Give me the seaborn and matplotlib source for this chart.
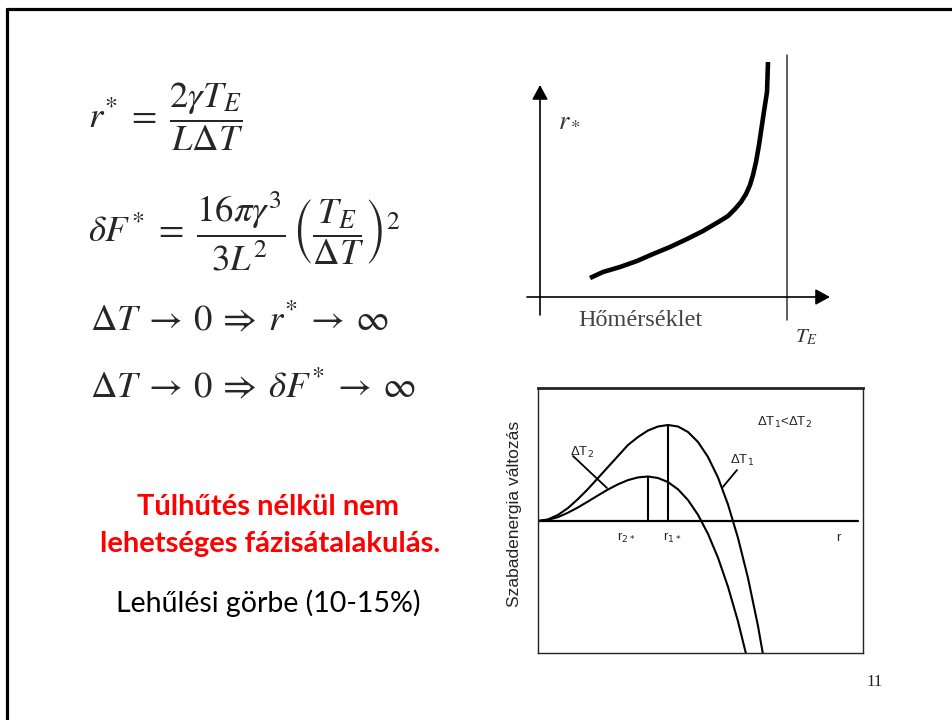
import matplotlib
matplotlib.use("Agg")
import matplotlib.pyplot as plt
from matplotlib.lines import Line2D
import seaborn as sns

# --- critical nucleus radius vs. temperature (arbitrary units) ---
temperature = [50, 63, 80, 97, 113, 130, 147, 163, 180, 188, 195, 201, 206, 210, 213,
               216, 219, 223, 227, 228]
r_critical = [19, 25, 30, 36, 43, 50, 58, 66, 76, 81, 88, 95, 103, 112, 122,
              135, 152, 179, 205, 235]
t_equilibrium = 247

# --- free energy change vs. cluster radius for two undercoolings ---
radius = [0, 1, 2, 3, 4, 5, 6, 7, 8, 9, 10, 11, 12, 13, 14, 15, 16, 17, 18, 19, 20, 21, 22, 23]
dG_small_dT = [0, 0.16, 0.61, 1.3, 2.2, 3.2, 4.3, 5.4, 6.5, 7.6, 8.4, 9.05, 9.45, 9.6,
               9.45, 8.9, 7.9, 6.4, 4.35, 1.65, -1.7, -5.7, -10.5, -16.2]
dG_large_dT = [0, 0.11, 0.39, 0.83, 1.36, 1.95, 2.56, 3.15, 3.67, 4.09, 4.36, 4.45, 4.30,
               3.89, 3.17, 2.09, 0.62, -1.29, -3.67, -6.58, -10.04, -14.09, -18.8, -24.2]

W, H = 952, 720

sns.set_theme(style="white")
plt.rcParams["mathtext.fontset"] = "stix"
plt.rcParams["font.family"] = ["Liberation Serif", "DejaVu Sans"]

fig = plt.figure(figsize=(W / 100, H / 100), dpi=100)
fig.patch.set_facecolor("white")


def fpos(x, y):
    return x / W, 1 - y / H


def faxes(x0, y0, x1, y1):
    return [x0 / W, 1 - y1 / H, (x1 - x0) / W, (y1 - y0) / H]


# slide frame
fig.add_artist(Line2D([7 / W, 7 / W], [0, 1 - 9 / H], color="black", lw=2.3,
                      transform=fig.transFigure))
fig.add_artist(Line2D([7 / W, 1], [1 - 9 / H, 1 - 9 / H], color="black", lw=2.3,
                      transform=fig.transFigure))

# --- equations ---
eq_size = 26.5
fig.text(*fpos(88, 117), r"$r^{*}\;=\;\dfrac{2\gamma T_E}{L\Delta T}$",
         fontsize=eq_size, va="center", ha="left")
fig.text(*fpos(88, 231),
         r"$\delta F^{*}\;=\;\dfrac{16\pi\gamma^{3}}{3L^{2}}\,\left(\dfrac{T_E}{\Delta T}\right)^{2}$",
         fontsize=eq_size, va="center", ha="left")
fig.text(*fpos(90, 330),
         r"$\Delta T\:\rightarrow\:0\:\Rightarrow\:r^{*}\:\rightarrow\:\infty$",
         fontsize=eq_size, va="baseline", ha="left")
fig.text(*fpos(90, 397),
         r"$\Delta T\:\rightarrow\:0\:\Rightarrow\:\delta F^{*}\:\rightarrow\:\infty$",
         fontsize=eq_size, va="baseline", ha="left")

# --- remarks ---
remark_font = ["Lato", "DejaVu Sans"]
fig.text(*fpos(268, 515), "Túlhűtés nélkül nem", fontsize=21, fontweight="bold",
         color="#FF0000", family=remark_font, ha="center", va="baseline")
fig.text(*fpos(270, 552), "lehetséges fázisátalakulás.", fontsize=21, fontweight="bold",
         color="#FF0000", family=remark_font, ha="center", va="baseline")
fig.text(*fpos(268, 612), "Lehűlési görbe (10-15%)", fontsize=20.5,
         color="black", family=remark_font, ha="center", va="baseline")
fig.text(*fpos(875, 682), "11", fontsize=12, color="#222222", ha="center", va="center")

# --- r* vs temperature sketch ---
ax1 = fig.add_axes(faxes(520, 40, 850, 360))
ax1.set_xlim(-20, 310)
ax1.set_ylim(297 - 360, 297 - 40)
ax1.axis("off")
arrow_kw = dict(arrowstyle="-|>,head_length=0.55,head_width=0.3", color="black",
                lw=1.2, mutation_scale=16, shrinkA=0, shrinkB=0)
ax1.annotate("", xy=(290, 0), xytext=(-13, 0), arrowprops=arrow_kw)
ax1.annotate("", xy=(0, 212), xytext=(0, -18), arrowprops=arrow_kw)
ax1.plot([t_equilibrium, t_equilibrium], [-23, 242], color="#333333", lw=1.1)
sns.lineplot(x=temperature, y=r_critical, ax=ax1, color="black", lw=3.3,
             estimator=None, sort=False, solid_capstyle="butt", solid_joinstyle="round")
ax1.text(18, 177, r"$r_*$", fontsize=19, color="#333333", ha="left", va="center")
ax1.text(100, -23, "Hőmérséklet", fontsize=17.5, color="#444444", ha="center", va="center")
ax1.text(255, -40, r"$T_E$", fontsize=15, color="#333333", ha="left", va="center")

# --- free energy vs radius ---
ax2 = fig.add_axes(faxes(538, 388, 863, 653))
ax2.set_xlim(0, 32.5)
ax2.set_ylim(-13.2, 13.3)
ax2.set_xticks([])
ax2.set_yticks([])
for side, sp in ax2.spines.items():
    sp.set_visible(True)
    sp.set_color("#222222")
    sp.set_linewidth(2.0 if side == "top" else 1.0)
ax2.axhline(0, xmin=0, xmax=32 / 32.5, color="black", lw=1.6)
sns.lineplot(x=radius, y=dG_small_dT, ax=ax2, color="black", lw=1.5, estimator=None, sort=False)
sns.lineplot(x=radius, y=dG_large_dT, ax=ax2, color="black", lw=1.5, estimator=None, sort=False)

i1 = dG_small_dT.index(max(dG_small_dT))
i2 = dG_large_dT.index(max(dG_large_dT))
ax2.vlines([radius[i1], radius[i2]], 0, [dG_small_dT[i1], dG_large_dT[i2]], color="black", lw=1.5)

sans = ["Liberation Sans", "DejaVu Sans"]
lab_kw = dict(family=sans, math_fontfamily="dejavusans", color="#222222")
ax2.text(24.7, 9.9, r"ΔT$_1$<ΔT$_2$", fontsize=9.5, ha="center", va="center", **lab_kw)
ax2.text(3.2, 6.9, r"ΔT$_2$", fontsize=9.5, ha="left", va="center", **lab_kw)
ax2.text(19.2, 6.1, r"ΔT$_1$", fontsize=9.5, ha="left", va="center", **lab_kw)
ax2.plot([3.5, 6.9], [6.5, 3.3], color="black", lw=1.3)
ax2.plot([19.9, 18.4], [5.1, 3.3], color="black", lw=1.3)
ax2.text(radius[i2] - 2.2, -1.7, r"r$_{2*}$", fontsize=9.5, ha="center", va="center", **lab_kw)
ax2.text(radius[i1] + 0.4, -1.7, r"r$_{1*}$", fontsize=9.5, ha="center", va="center", **lab_kw)
ax2.text(30, -1.7, "r", fontsize=9.5, ha="center", va="center", **lab_kw)
ax2.text(-0.071, 0.525, "Szabadenergia változás", transform=ax2.transAxes, rotation=90,
         fontsize=12.5, family=sans, color="#222222", ha="center", va="center", clip_on=False)

fig.savefig("out.png", dpi=100, facecolor="white")
